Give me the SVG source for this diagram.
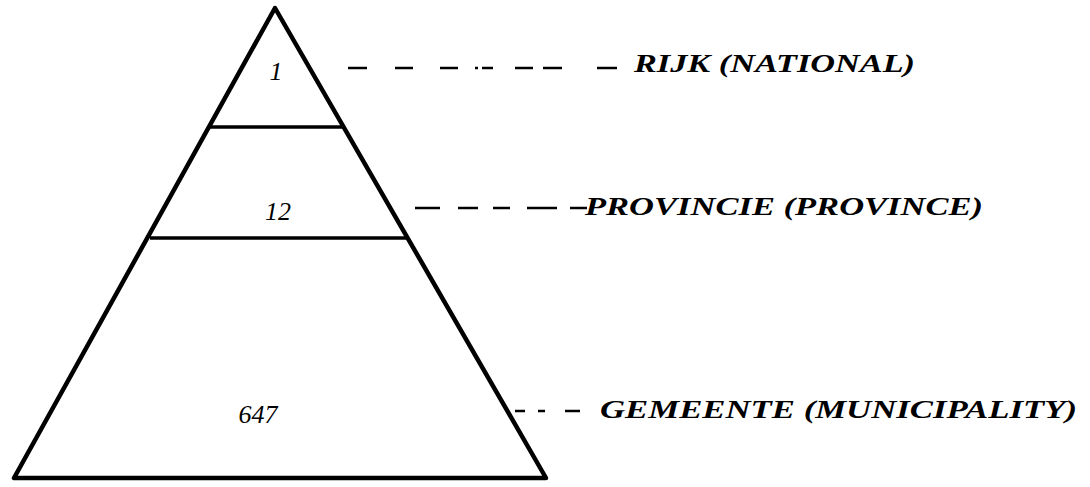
<svg xmlns="http://www.w3.org/2000/svg" width="1090" height="487" viewBox="0 0 1090 487">
<style>
.edge{stroke:#000;stroke-width:4.5;fill:none;stroke-linejoin:round}
.div{stroke:#000;stroke-width:3.5}
.dash{stroke:#000;stroke-width:2.5}
.num{font-family:"Liberation Serif",serif;font-style:italic;font-size:26px;fill:#000}
.lab{font-family:"Liberation Serif",serif;font-style:italic;font-weight:bold;font-size:26px;fill:#000}
</style>
<rect width="1090" height="487" fill="#fff"/>
<g id="pyramid">
<polygon class="edge" points="275,8 14,478 546,478"/>
</g>
<g id="level-rijk">
<line class="div" x1="210" y1="127" x2="345" y2="127"/>
<text class="num" x="276" y="80" text-anchor="middle">1</text>
<text class="lab" x="634" y="72" textLength="281" lengthAdjust="spacingAndGlyphs">RIJK (NATIONAL)</text>
</g>
<g id="level-provincie">
<line class="div" x1="150" y1="238" x2="408" y2="238"/>
<text class="num" x="278" y="220" text-anchor="middle">12</text>
<text class="lab" x="585" y="215" textLength="398" lengthAdjust="spacingAndGlyphs">PROVINCIE (PROVINCE)</text>
</g>
<g id="level-gemeente">
<text class="num" x="258" y="423" text-anchor="middle">647</text>
<text class="lab" x="600" y="418" textLength="477" lengthAdjust="spacingAndGlyphs">GEMEENTE (MUNICIPALITY)</text>
</g>
<g id="connectors">
<line class="dash" x1="348" y1="68" x2="367" y2="68"/>
<line class="dash" x1="395" y1="68" x2="413" y2="68"/>
<line class="dash" x1="440" y1="68" x2="458" y2="68"/>
<line class="dash" x1="475" y1="68" x2="478" y2="68"/>
<line class="dash" x1="482" y1="68" x2="493" y2="68"/>
<line class="dash" x1="515" y1="68" x2="533" y2="68"/>
<line class="dash" x1="543" y1="68" x2="562" y2="68"/>
<line class="dash" x1="597" y1="68" x2="617" y2="68"/>
<line class="dash" x1="415" y1="208" x2="440" y2="208"/>
<line class="dash" x1="458" y1="208" x2="478" y2="208"/>
<line class="dash" x1="493" y1="208" x2="510" y2="208"/>
<line class="dash" x1="527" y1="208" x2="557" y2="208"/>
<line class="dash" x1="570" y1="208" x2="587" y2="208"/>
<line class="dash" x1="515" y1="411" x2="525" y2="411"/>
<line class="dash" x1="538" y1="411" x2="545" y2="411"/>
<line class="dash" x1="565" y1="411" x2="580" y2="411"/>
</g>
</svg>
